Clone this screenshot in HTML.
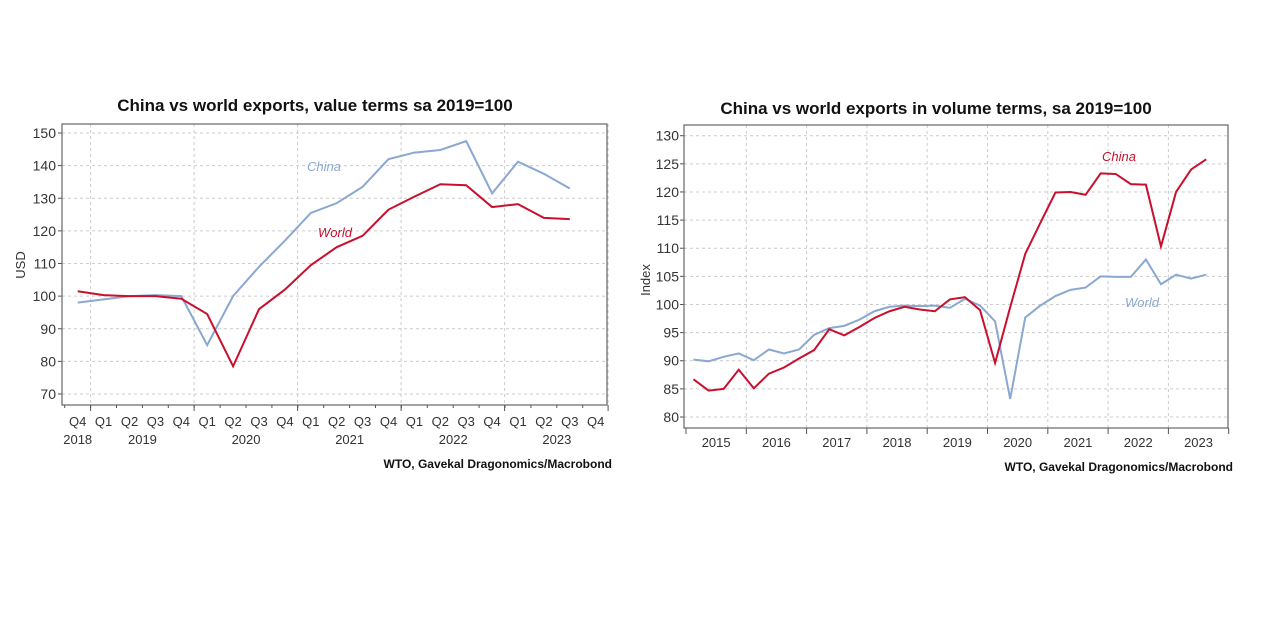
<!DOCTYPE html>
<html><head><meta charset="utf-8"><style>
html,body{margin:0;padding:0;background:#fff;}
svg{display:block;font-family:"Liberation Sans Narrow","Liberation Sans",sans-serif;}
</style></head><body>
<svg id="svg" width="1278" height="617" viewBox="0 0 1278 617"></svg>
<script>
// Left chart data (value terms)
const leftQuarters = ["Q4","Q1","Q2","Q3","Q4","Q1","Q2","Q3","Q4","Q1","Q2","Q3","Q4","Q1","Q2","Q3","Q4","Q1","Q2","Q3","Q4"];
const leftYears = ["2018","2019","2020","2021","2022","2023"];
const leftChina = [98,99,100,100.3,100,85,100,109,117,125.5,128.5,133.5,142,144,144.8,147.5,131.5,141.2,137.5,133];
const leftWorld = [101.5,100.3,100,100,99.2,94.5,78.5,96,102,109.5,115,118.5,126.5,130.5,134.3,134,127.3,128.2,124,123.6];
const leftTicks = [70,80,90,100,110,120,130,140,150];
// Right chart data (volume terms), Q1 2015 .. Q3 2023
const rightYears = ["2015","2016","2017","2018","2019","2020","2021","2022","2023"];
const rightChina = [86.7,84.7,85,88.4, 85.1,87.7,88.8,90.4, 91.9,95.6,94.5,96, 97.6,98.8,99.6,99.1, 98.8,100.9,101.3,99, 89.6,99.5,109,114.5, 119.9,120,119.5,123.3, 123.2,121.4,121.3,110.3, 120,124,125.8];
const rightWorld = [90.2,89.9,90.7,91.3, 90.1,92,91.3,92, 94.6,95.8,96.2,97.3, 98.8,99.6,99.8,99.7, 99.8,99.4,101,99.8, 97,83.2,97.7,99.8, 101.5,102.6,103,105, 104.9,104.9,108,103.6, 105.3,104.6,105.3];
const rightTicks = [80,85,90,95,100,105,110,115,120,125,130];

const NS="http://www.w3.org/2000/svg";
const svg=document.getElementById('svg');
function mk(tag,attrs,parent,text){const e=document.createElementNS(NS,tag);for(const k in attrs)e.setAttribute(k,attrs[k]);if(text!==undefined)e.textContent=text;(parent||svg).appendChild(e);return e;}

// ---------- LEFT ----------
const L={x0:62,x1:607,y0:124,y1:405};
const ly=v=>394-(v-70)*(394-133)/80;
const lx=i=>77.7+i*25.9;
const gL=mk('g',{});


let t=mk('text',{x:315,y:111,'text-anchor':'middle','font-size':17,'font-weight':'bold',fill:'#111'},gL,'China vs world exports, value terms sa 2019=100');

leftTicks.forEach(v=>{
  const y=ly(v);
  const g=mk('line',{x1:L.x0,x2:L.x1,y1:y,y2:y,stroke:'#ccc','stroke-dasharray':'3,3'},gL);
  
  mk('line',{x1:L.x0-4,x2:L.x0,y1:y,y2:y,stroke:'#555'},gL);
  const tl=mk('text',{x:L.x0-6,y:y+5,'text-anchor':'end','font-size':14,fill:'#333'},gL,v);
  
});
for(let k=0;k<6;k++){const x=90.6+k*103.5;
  const g=mk('line',{x1:x,x2:x,y1:L.y0,y2:L.y1,stroke:'#ccc','stroke-dasharray':'3,3'},gL);
  
  mk('line',{x1:x,x2:x,y1:L.y1,y2:L.y1+6,stroke:'#555'},gL);}
let fr=mk('rect',{x:L.x0,y:L.y0,width:L.x1-L.x0,height:L.y1-L.y0,fill:'none',stroke:'#666','stroke-width':1.2},gL);

leftQuarters.forEach((q,i)=>{const x=lx(i);
  mk('line',{x1:x-13,x2:x-13,y1:L.y1,y2:L.y1+3,stroke:'#555'},gL);
  const e=mk('text',{x:x,y:426,'text-anchor':'middle','font-size':13,fill:'#333'},gL,q);
  });
const lyPos=[lx(0),lx(2.5),lx(6.5),lx(10.5),lx(14.5),lx(18.5)];
leftYears.forEach((yy,i)=>{const e=mk('text',{x:lyPos[i],y:444,'text-anchor':'middle','font-size':13,fill:'#333'},gL,yy);
  });
t=mk('text',{x:25,y:265,'text-anchor':'middle','font-size':13,fill:'#333',transform:'rotate(-90 25 265)'},gL,'USD');

let p=mk('polyline',{points:leftChina.map((v,i)=>lx(i)+','+ly(v)).join(' '),fill:'none',stroke:'#8aa8d0','stroke-width':2},gL);

p=mk('polyline',{points:leftWorld.map((v,i)=>lx(i)+','+ly(v)).join(' '),fill:'none',stroke:'#c8102e','stroke-width':2},gL);

t=mk('text',{x:307,y:171,'font-size':13,'font-style':'italic',fill:'#8aa8d0'},gL,'China');

t=mk('text',{x:318,y:237,'font-size':13,'font-style':'italic',fill:'#c8102e'},gL,'World');

t=mk('text',{x:612,y:468,'text-anchor':'end','font-size':12,'font-weight':'bold',fill:'#111'},gL,'WTO, Gavekal Dragonomics/Macrobond');


// ---------- RIGHT ----------
const R={x0:684,x1:1228,y0:125,y1:428};
const ry=v=>417-(v-80)*(417-135.7)/50;
const rx=i=>693.5+i*15.08;
const gR=mk('g',{});


t=mk('text',{x:936,y:114,'text-anchor':'middle','font-size':17,'font-weight':'bold',fill:'#111'},gR,'China vs world exports in volume terms, sa 2019=100');

rightTicks.forEach(v=>{const y=ry(v);
  const g=mk('line',{x1:R.x0,x2:R.x1,y1:y,y2:y,stroke:'#ccc','stroke-dasharray':'3,3'},gR);
  
  mk('line',{x1:R.x0-4,x2:R.x0,y1:y,y2:y,stroke:'#555'},gR);
  const tl=mk('text',{x:R.x0-5,y:y+5,'text-anchor':'end','font-size':14,fill:'#333'},gR,v);
  });
for(let k=0;k<=9;k++){const x=686+k*60.3;
  if(k>0&&k<9){const g=mk('line',{x1:x,x2:x,y1:R.y0,y2:R.y1,stroke:'#ccc','stroke-dasharray':'3,3'},gR);
  }
  mk('line',{x1:x,x2:x,y1:R.y1,y2:R.y1+6,stroke:'#555'},gR);}
fr=mk('rect',{x:R.x0,y:R.y0,width:R.x1-R.x0,height:R.y1-R.y0,fill:'none',stroke:'#666','stroke-width':1.2},gR);

rightYears.forEach((yy,i)=>{const e=mk('text',{x:686+i*60.3+30.15,y:447,'text-anchor':'middle','font-size':13,fill:'#333'},gR,yy);
  });
t=mk('text',{x:650,y:280,'text-anchor':'middle','font-size':13,fill:'#333',transform:'rotate(-90 650 280)'},gR,'Index');

p=mk('polyline',{points:rightWorld.map((v,i)=>rx(i)+','+ry(v)).join(' '),fill:'none',stroke:'#8aa8d0','stroke-width':2},gR);

p=mk('polyline',{points:rightChina.map((v,i)=>rx(i)+','+ry(v)).join(' '),fill:'none',stroke:'#c8102e','stroke-width':2},gR);

t=mk('text',{x:1102,y:161,'font-size':13,'font-style':'italic',fill:'#c8102e'},gR,'China');

t=mk('text',{x:1125,y:307,'font-size':13,'font-style':'italic',fill:'#8aa8d0'},gR,'World');

t=mk('text',{x:1233,y:471,'text-anchor':'end','font-size':12,'font-weight':'bold',fill:'#111'},gR,'WTO, Gavekal Dragonomics/Macrobond');

</script>
</body></html>
